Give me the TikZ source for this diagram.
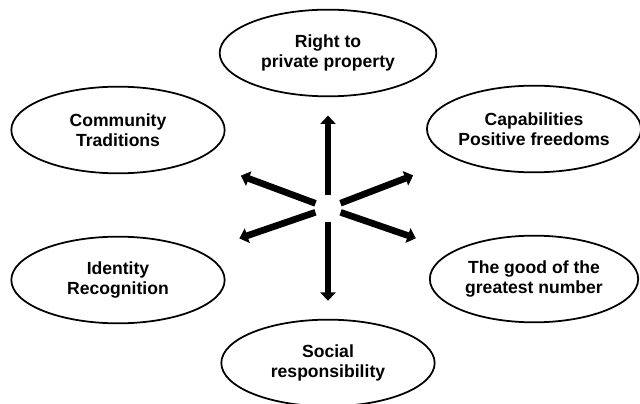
\documentclass[tikz,border=0pt]{standalone}
\usepackage{fontspec}
\setmainfont{Liberation Sans}
\usepackage{tikz}
\usetikzlibrary{shapes.geometric}
\usetikzlibrary{arrows.meta}

\begin{document}
\begin{tikzpicture}[x=0.03cm,y=-0.03cm,
        value/.style={draw, ellipse, line width=1.5pt, inner sep=0pt,
            minimum width=6.4cm, minimum height=2.6cm, align=center,
            font=\fontsize{15pt}{17pt}\selectfont\bfseries},
        spoke/.style={line width=0.2cm, -{Triangle[length=0.25cm,width=0.45cm]}}]
        \useasboundingbox (0,0) rectangle (640,404);
        \coordinate (hub) at (328,208);
        \node[value, minimum width=6.5cm] (prop) at (328,53) {Right to\\private property};
        \node[value] (comm) at (118,130) {Community\\Traditions};
        \node[value, minimum width=6.25cm] (capa) at (534,129) {Capabilities\\Positive freedoms};
        \node[value] (iden) at (118,280) {Identity\\Recognition};
        \node[value, minimum width=6.25cm] (good) at (534,279) {The good of the\\greatest number};
        \node[value] (soci) at (328,363) {Social\\responsibility};
		%\node[draw, circle, minimum size=0.4cm] at (hub) {};
        \draw[spoke, shorten <=0.39cm, shorten >=0.55cm] (hub) -- (prop);
        \draw[spoke, shorten <=0.42cm, shorten >=0.54cm] (hub) -- (soci);
        \draw[spoke, shorten <=0.4cm, shorten >=1.38cm] (hub) -- (comm);
        \draw[spoke, shorten <=0.4cm, shorten >=1.35cm] (hub) -- (capa);
        \draw[spoke, shorten <=0.4cm, shorten >=1.23cm] (hub) -- (iden);
        \draw[spoke, shorten <=0.4cm, shorten >=1.17cm] (hub) -- (good);
	\end{tikzpicture}
\end{document}
